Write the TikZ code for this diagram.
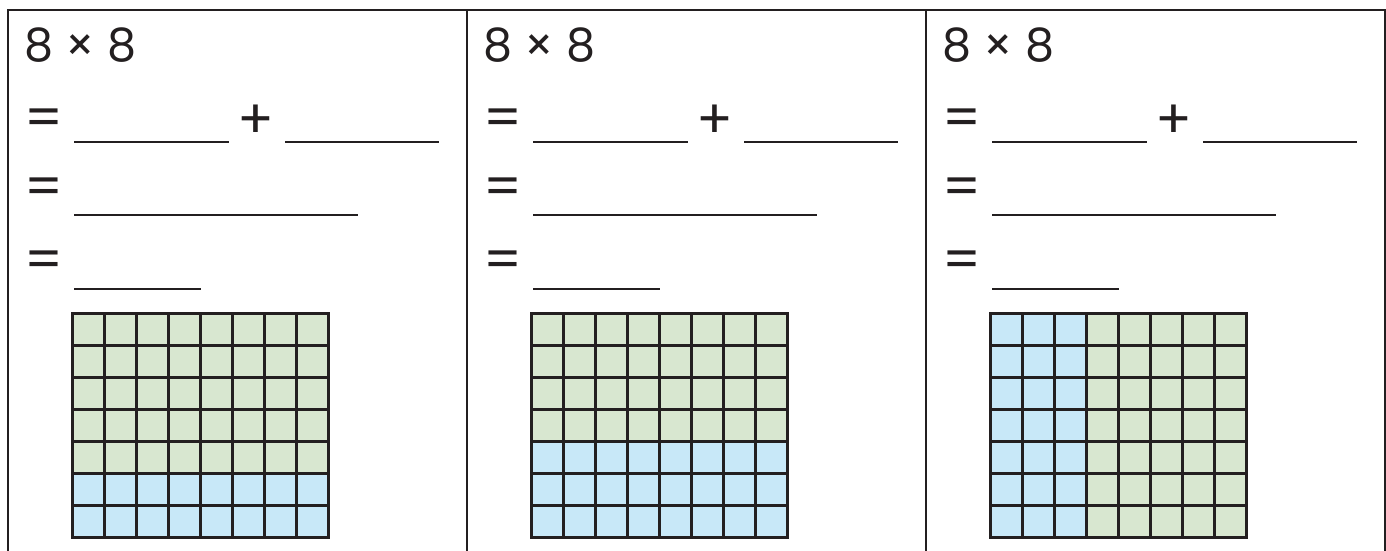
\documentclass[tikz,border=0pt]{standalone}
\usepackage{fontspec}
\setmainfont{Poppins}
\definecolor{cellgreen}{HTML}{D8E7D0}
\definecolor{cellblue}{HTML}{C8E8F8}
\definecolor{ink}{HTML}{231F20}
\tikzset{
  sheet/.style={line width=2.5pt, draw=ink},
  blank/.style={line width=2pt, draw=ink},
  sumtext/.style={font=\fontsize{46}{50}\selectfont, text=ink, inner sep=0pt},
  signtext/.style={font=\fontsize{54}{58}\selectfont, text=ink, inner sep=0pt},
  gridline/.style={line width=3pt, draw=ink},
}
\begin{document}
\begin{tikzpicture}[x=1pt, y=-1pt]
  \useasboundingbox (0,0) rectangle (1386,551);
  % frame
  \draw[sheet] (8,551) -- (8,10) -- (1386,10);
  \foreach \ox in {467,926,1385}
    \draw[sheet] (\ox,10) -- (\ox,551);
  % three panels: offset / name / blue part of the grid
  \foreach \ox/\id/\ba/\bb/\bc/\bd in {8/a/0/160/256/224, 467/b/0/128/256/224, 926/c/0/0/96/224} {
    \begin{scope}[shift={(\ox,0)}]
      \node[sumtext, anchor=base west] (task\id) at (16,62) {8 × 8};
      \node[signtext] (eqa\id) at (36,123) {=};
      \node[signtext] (plus\id) at (248,122) {+};
      \node[signtext] (eqb\id) at (36,192) {=};
      \node[signtext] (eqc\id) at (36,265) {=};
      \draw[blank] (66,142) -- (221,142);
      \draw[blank] (277,142) -- (431,142);
      \draw[blank] (66,215) -- (350,215);
      \draw[blank] (66,289) -- (193,289);
      \begin{scope}[shift={(64,313)}]
        \fill[cellgreen] (0,0) rectangle (256,224);
        \fill[cellblue] (\ba,\bb) rectangle (\bc,\bd);
        \foreach \col in {1,...,7}
          \draw[gridline] (\col*32,0) -- (\col*32,224);
        \foreach \row in {1,...,6}
          \draw[gridline] (0,\row*32) -- (256,\row*32);
        \draw[gridline] (0,0) rectangle (256,224);
      \end{scope}
    \end{scope}
  }
\end{tikzpicture}
\end{document}
